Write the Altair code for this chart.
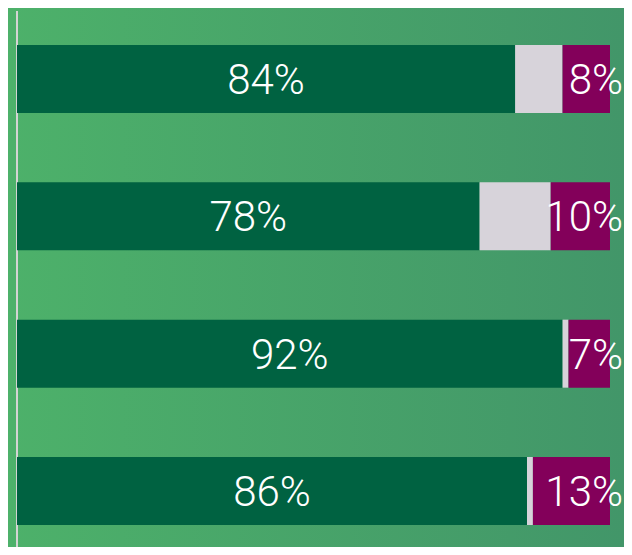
import altair as alt
import pandas as pd

rows = [0, 1, 2, 3]
green_vals = [84, 78, 92, 86]
gray_vals = [8, 12, 1, 1]
purple_vals = [8, 10, 7, 13]
segments = ["yes", "neutral", "no"]
seg_colors = ["#006241", "#d7d3da", "#83005a"]

records = []
for r, g, n, p in zip(rows, green_vals, gray_vals, purple_vals):
    for i, (s, v) in enumerate(zip(segments, [g, n, p])):
        records.append({"row": r, "seg": s, "ord": i, "value": v,
                        "label": f"{v}%" if s != "neutral" else ""})
df = pd.DataFrame(records)

W, H = 616, 539

bg = alt.Chart(pd.DataFrame({"a": [0]})).mark_rect(
    color=alt.Gradient(
        gradient="linear",
        stops=[alt.GradientStop(color="#4db16a", offset=0),
               alt.GradientStop(color="#429669", offset=1)],
        x1=0, x2=1, y1=0, y2=0,
    )
).encode(x=alt.value(0), x2=alt.value(W), y=alt.value(0), y2=alt.value(H))

vline = alt.Chart(pd.DataFrame({"a": [0]})).mark_rule(
    color="#d4d4d4", strokeWidth=2
).encode(x=alt.value(9), y=alt.value(3), y2=alt.value(H))

xscale = alt.Scale(domain=[0, 100], range=[9, 602], nice=False, zero=False, padding=0)
yscale = alt.Scale(domain=[0, 3], range=[71, 483], nice=False, zero=False, padding=0)

base = alt.Chart(df).transform_stack(
    stack="value", groupby=["row"], as_=["x0", "x1"],
    sort=[alt.SortField("ord", order="ascending")]
).transform_calculate(mid="(datum.x0 + datum.x1) / 2")

bars = base.mark_bar(size=68).encode(
    x=alt.X("x0:Q", scale=xscale, axis=None),
    x2="x1:Q",
    y=alt.Y("row:Q", scale=yscale, axis=None),
    color=alt.Color("seg:N", scale=alt.Scale(domain=segments, range=seg_colors), legend=None),
)

text_green = base.transform_filter("datum.seg == 'yes'").mark_text(
    color="white", fontSize=42, font="Roboto", fontWeight=300,
    baseline="middle", align="center", dy=2
).encode(
    x=alt.X("mid:Q", scale=xscale, axis=None),
    y=alt.Y("row:Q", scale=yscale, axis=None),
    text="label:N",
)

text_purple = base.transform_filter("datum.seg == 'no'").mark_text(
    color="white", fontSize=42, font="Roboto", fontWeight=300,
    baseline="middle", align="right", dx=13, dy=2
).encode(
    x=alt.X("x1:Q", scale=xscale, axis=None),
    y=alt.Y("row:Q", scale=yscale, axis=None),
    text="label:N",
)

chart = alt.layer(bg, vline, bars, text_green, text_purple).properties(
    width=W, height=H, padding=0,
    autosize=alt.AutoSizeParams(type="fit", contains="padding"),
).configure_view(stroke=None).configure(background="#4aa968")

chart.save("out.html", embed_options={"renderer": "svg", "actions": False})
